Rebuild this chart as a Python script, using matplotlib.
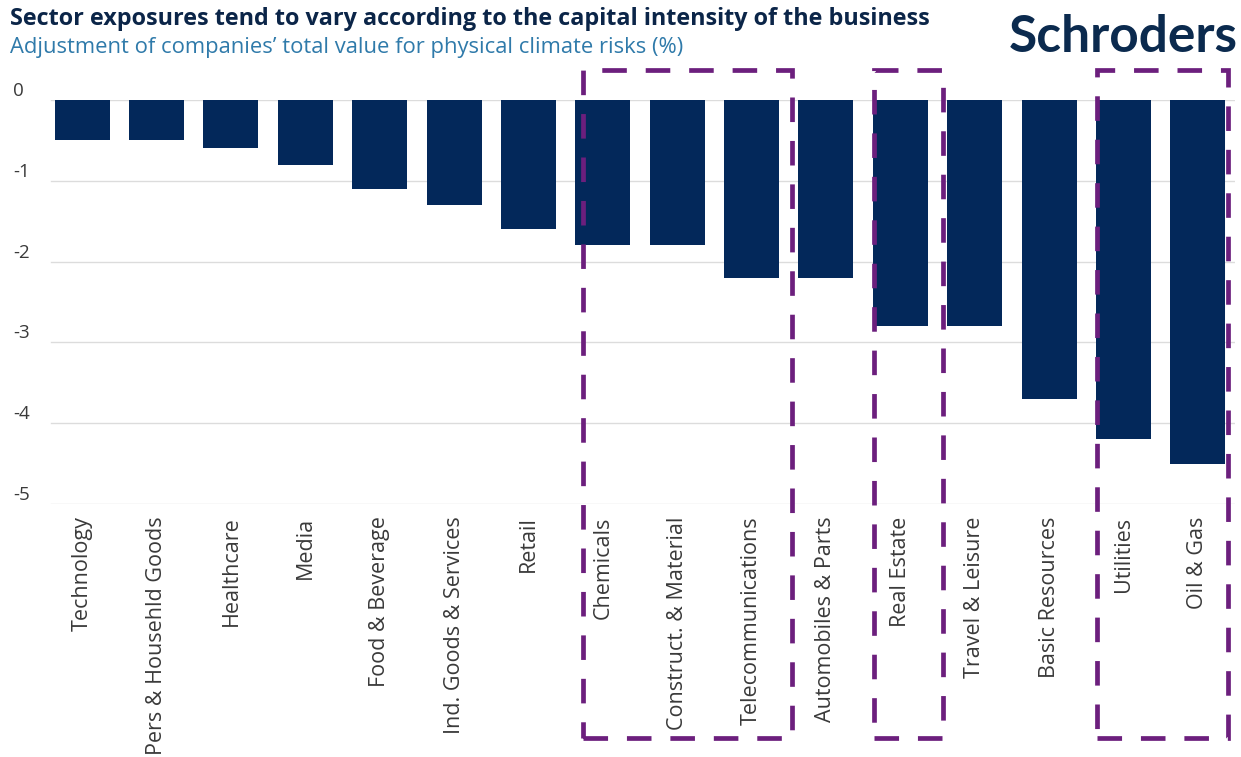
import matplotlib.pyplot as plt
from matplotlib.patches import Rectangle

plt.rcParams['font.family'] = ['Open Sans', 'DejaVu Sans']

# data
sectors = ['Technology', 'Pers & Househld Goods', 'Healthcare', 'Media', 'Food & Beverage',
           'Ind. Goods & Services', 'Retail', 'Chemicals', 'Construct. & Material',
           'Telecommunications', 'Automobiles & Parts', 'Real Estate', 'Travel & Leisure',
           'Basic Resources', 'Utilities', 'Oil & Gas']
adjustment = [-0.5, -0.5, -0.6, -0.8, -1.1, -1.3, -1.6, -1.8, -1.8,
              -2.2, -2.2, -2.8, -2.8, -3.7, -4.2, -4.5]
yticks = [0, -1, -2, -3, -4, -5]

# highlighted groups: (first sector, last sector, left pad, right pad)
groups = [('Chemicals', 'Telecommunications', 0.26, 0.55),
          ('Real Estate', 'Real Estate', 0.36, 0.57),
          ('Utilities', 'Oil & Gas', 0.36, 0.41)]

navy = '#03285a'
purple = '#6c1f7d'

fig = plt.figure(figsize=(12.41, 7.57), dpi=100)
ax = fig.add_axes([45 / 1241, 1 - 504 / 757, 1190 / 1241, 404 / 757])

x = range(len(sectors))
ax.bar(x, adjustment, width=0.74, color=navy, zorder=3)
ax.set_xlim(-0.5, len(sectors) - 0.5)
ax.set_ylim(-5, 0)

ax.set_yticks(yticks)
ax.set_yticklabels([str(t) for t in yticks], fontsize=13.5, color='#3a3a3a',
                   va='bottom', ha='left')
for t in yticks:
    ax.axhline(t, xmin=0.005, color='#dcdcdc', lw=1, zorder=1)
ax.tick_params(axis='y', length=0, pad=23)

ax.set_xticks(list(x))
ax.set_xticklabels(sectors, rotation=90, fontsize=15.5, color='#3a3a3a', va='top')
ax.tick_params(axis='x', length=0, pad=9)
for s in ax.spines.values():
    s.set_visible(False)

# dashed highlight boxes
for first, last, lpad, rpad in groups:
    i0 = sectors.index(first)
    i1 = sectors.index(last)
    r = Rectangle((i0 - lpad, -7.9), i1 - i0 + lpad + rpad, 8.27, fill=False,
                  edgecolor=purple, lw=3.4, linestyle=(0, (5.2, 4)), clip_on=False, zorder=4)
    ax.add_patch(r)

fig.text(10 / 1241, 1 - 19 / 757,
         'Sector exposures tend to vary according to the capital intensity of the business',
         fontsize=16.8, fontweight='bold', color='#0b2548', va='center', ha='left')
fig.text(10 / 1241, 1 - 48 / 757,
         'Adjustment of companies\u2019 total value for physical climate risks (%)',
         fontsize=15.8, color='#2f7aaa', va='center', ha='left')
fig.text(1238 / 1241, 1 - 37 / 757, 'Schroders', fontsize=37, fontweight='bold',
         color='#0b2a4e', va='center', ha='right', family=['Lato', 'DejaVu Sans'])

fig.savefig('out.png', dpi=100, facecolor='white')
